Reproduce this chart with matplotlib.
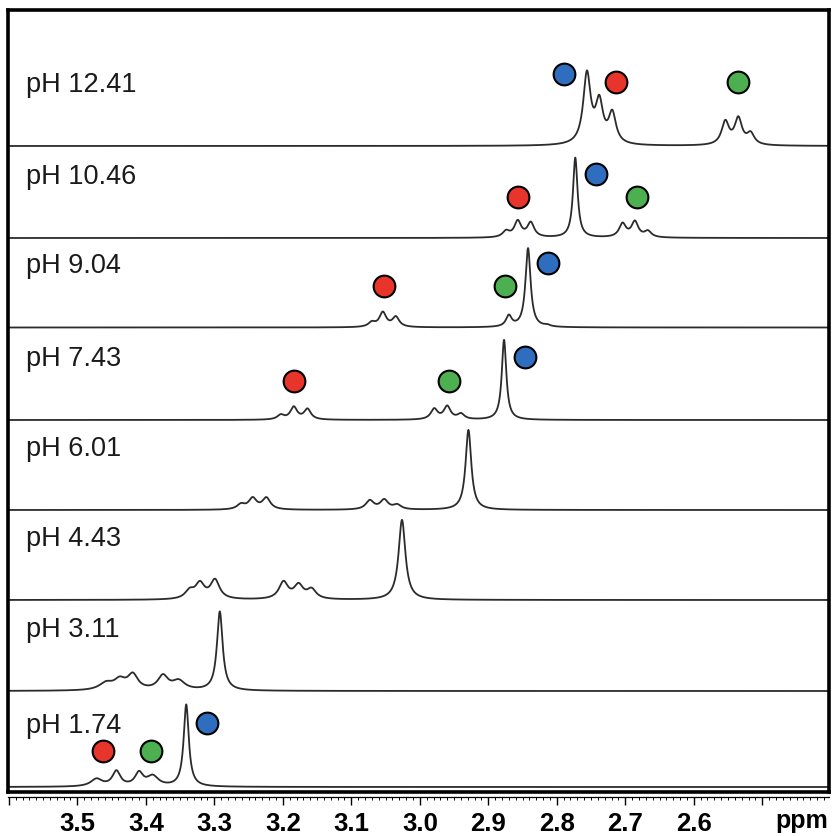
import numpy as np
import matplotlib
matplotlib.use("Agg")
import matplotlib.pyplot as plt
from matplotlib.ticker import FixedLocator, FixedFormatter, MultipleLocator

# ---- spectra: peak tables (shift in ppm, height, half width in ppm) ----
ph_labels = ["pH 12.41", "pH 10.46", "pH 9.04", "pH 7.43",
             "pH 6.01", "pH 4.43", "pH 3.11", "pH 1.74"]

ppm_1241 = [2.756, 2.738, 2.719, 2.554, 2.535, 2.517]
amp_1241 = [70, 40, 30, 23, 26, 11]
hw_1241 = [0.0065, 0.0065, 0.0065, 0.0065, 0.0065, 0.0065]

ppm_1046 = [2.874, 2.857, 2.838, 2.773, 2.704, 2.686, 2.667]
amp_1046 = [6, 16, 14.5, 80, 13.5, 15.5, 6]
hw_1046 = [0.006, 0.006, 0.006, 0.004, 0.006, 0.006, 0.006]

ppm_904 = [3.070, 3.054, 3.035, 2.870, 2.842, 2.814]
amp_904 = [4.5, 14.5, 10, 11, 79, 1.5]
hw_904 = [0.006, 0.006, 0.006, 0.005, 0.0045, 0.005]

ppm_743 = [3.203, 3.184, 3.164, 2.979, 2.960, 2.940, 2.877]
amp_743 = [4.5, 12.5, 10.5, 10.5, 13, 5.5, 80]
hw_743 = [0.006, 0.006, 0.006, 0.006, 0.006, 0.006, 0.004]

ppm_601 = [3.261, 3.244, 3.224, 3.073, 3.052, 3.033, 2.929]
amp_601 = [5, 11, 11.5, 9, 9.5, 4.5, 80]
hw_601 = [0.007, 0.007, 0.007, 0.007, 0.007, 0.007, 0.005]

ppm_443 = [3.336, 3.321, 3.299, 3.199, 3.177, 3.158, 3.026]
amp_443 = [8, 15, 19, 17, 13.5, 9.5, 80]
hw_443 = [0.008, 0.008, 0.008, 0.008, 0.008, 0.008, 0.006]

ppm_311 = [3.458, 3.438, 3.419, 3.375, 3.352, 3.292]
amp_311 = [7, 9.5, 15, 14, 9, 79]
hw_311 = [0.012, 0.010, 0.009, 0.009, 0.011, 0.005]

ppm_174 = [3.472, 3.443, 3.410, 3.390, 3.341]
amp_174 = [7.5, 15, 13, 10, 82]
hw_174 = [0.010, 0.007, 0.007, 0.010, 0.0045]

# ---- assignment markers: shift and height above each trace's baseline ----
# None = no marker drawn for that trace
red_ppm = [2.714, 2.856, 3.052, 3.183, None, None, None, 3.462]
red_h = [64, 41, 41, 39, None, None, None, 36]
green_ppm = [2.536, 2.683, 2.876, 2.958, None, None, None, 3.392]
green_h = [64, 41, 41, 39, None, None, None, 36]
blue_ppm = [2.790, 2.743, 2.813, 2.846, None, None, None, 3.311]
blue_h = [72, 64, 64, 63, None, None, None, 64]

# x-axis ticks
major_ticks = [3.6, 3.5, 3.4, 3.3, 3.2, 3.1, 3.0, 2.9, 2.8, 2.7, 2.6, 2.5, 2.4]
major_labels = ["", "3.5", "3.4", "3.3", "3.2", "3.1", "3.0", "2.9",
                "2.8", "2.7", "2.6", "", ""]

peak_tables = [
    (ppm_1241, amp_1241, hw_1241),
    (ppm_1046, amp_1046, hw_1046),
    (ppm_904, amp_904, hw_904),
    (ppm_743, amp_743, hw_743),
    (ppm_601, amp_601, hw_601),
    (ppm_443, amp_443, hw_443),
    (ppm_311, amp_311, hw_311),
    (ppm_174, amp_174, hw_174),
]

# vertical stacking of the traces (baseline of each, top to bottom)
offsets = [646, 554, 464.5, 372, 282, 192, 101, 5]

RED, GREEN, BLUE = "#E8352B", "#4CAF50", "#2F6EBF"
X_LEFT, X_RIGHT = 3.6012, 2.4026
SCALE_FONT = ["Liberation Sans Narrow", "Liberation Sans", "DejaVu Sans"]


def lorentzian_sum(x, centers, heights, halfwidths):
    y = np.zeros_like(x)
    for c, h, g in zip(centers, heights, halfwidths):
        y += h * g ** 2 / ((x - c) ** 2 + g ** 2)
    return y


W, H = 833, 836
fig = plt.figure(figsize=(W / 100, H / 100), dpi=100)

# framed plotting area
ax = fig.add_axes([8 / W, (H - 792) / H, (829 - 8) / W, (792 - 10) / H])
ax.set_xlim(X_LEFT, X_RIGHT)
ax.set_ylim(0, 782)
ax.set_xticks([])
ax.set_yticks([])
for sp in ax.spines.values():
    sp.set_linewidth(2.6)
    sp.set_color("black")

x = np.linspace(X_LEFT, X_RIGHT, 6000)
for (c, h, g), base, label in zip(peak_tables, offsets, ph_labels):
    y = lorentzian_sum(x, c, h, g) + base
    ax.plot(x, y, color="#2b2b2b", lw=1.3, zorder=2)
    ax.text(3.575, base + 54, label, fontsize=19.5, color="#1a1a1a",
            family=["Liberation Sans", "DejaVu Sans"], ha="left", va="baseline")

for ppm_list, h_list, col in ((red_ppm, red_h, RED),
                              (green_ppm, green_h, GREEN),
                              (blue_ppm, blue_h, BLUE)):
    for p, hh, base in zip(ppm_list, h_list, offsets):
        if p is None:
            continue
        ax.scatter([p], [base + hh], s=245, color=col, edgecolors="black",
                   linewidths=1.5, zorder=5)

# separate ppm scale under the frame
ax2 = fig.add_axes([8 / W, (H - 797) / H, (829 - 8) / W, 1e-6])
ax2.set_xlim(X_LEFT, X_RIGHT)
ax2.set_yticks([])
for side in ("left", "right", "top"):
    ax2.spines[side].set_visible(False)
ax2.spines["bottom"].set_linewidth(0.9)
ax2.patch.set_visible(False)
ax2.xaxis.set_major_locator(FixedLocator(major_ticks))
ax2.xaxis.set_major_formatter(FixedFormatter(major_labels))
ax2.xaxis.set_minor_locator(MultipleLocator(0.01))
ax2.tick_params(axis="x", which="major", direction="out", length=6, width=1.0,
                pad=5, labelsize=18.5)
ax2.tick_params(axis="x", which="minor", direction="out", length=2.2, width=0.7)
for lab in ax2.get_xticklabels():
    lab.set_fontweight("bold")
    lab.set_family(SCALE_FONT)

fig.text(828 / W, (H - 828) / H, "ppm", fontsize=18, fontweight="bold",
         family=SCALE_FONT, ha="right", va="baseline")

fig.savefig("out.png", dpi=100, facecolor="white")
